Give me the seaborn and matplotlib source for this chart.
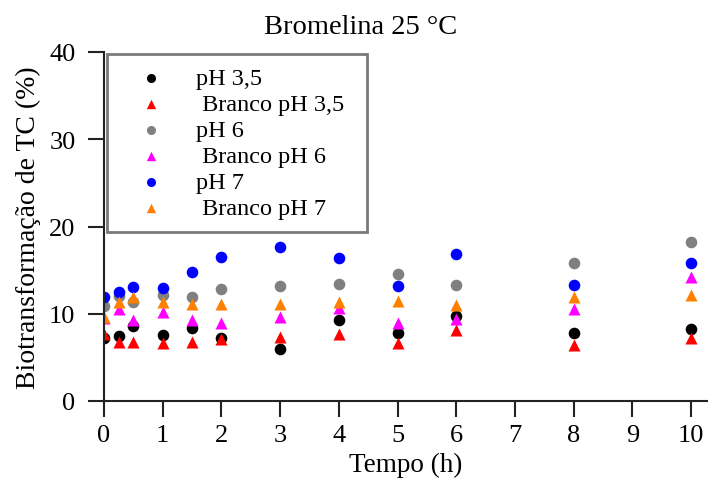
import matplotlib
matplotlib.use("Agg")
import matplotlib.pyplot as plt
import seaborn as sns
import pandas as pd

# ---- data ----
tempo = [0, 0.25, 0.5, 1, 1.5, 2, 3, 4, 5, 6, 8, 10]
ph35 = [7.2, 7.4, 8.65, 7.6, 8.35, 7.2, 5.95, 9.3, 7.85, 9.7, 7.85, 8.2]
branco_ph35 = [7.7, 6.8, 6.8, 6.65, 6.8, 7.1, 7.35, 7.7, 6.7, 8.15, 6.4, 7.2]
ph6 = [10.85, 12.0, 11.4, 12.15, 11.9, 12.8, 13.15, 13.45, 14.6, 13.3, 15.8, 18.2]
branco_ph6 = [9.5, 10.5, 9.3, 10.15, 9.3, 8.9, 9.6, 10.7, 8.9, 9.4, 10.55, 14.2]
ph7 = [11.9, 12.5, 13.1, 12.95, 14.75, 16.5, 17.7, 16.35, 13.2, 16.8, 13.3, 15.8]
branco_ph7 = [9.6, 11.3, 11.95, 11.3, 11.1, 11.1, 11.1, 11.4, 11.5, 11.05, 11.95, 12.15]

labels = ["pH 3,5", " Branco pH 3,5", "pH 6", " Branco pH 6", "pH 7", " Branco pH 7"]
series = [ph35, branco_ph35, ph6, branco_ph6, ph7, branco_ph7]
colors = ["#000000", "#ff0000", "#808080", "#ff00ff", "#0000ff", "#ff8000"]
markers = ["o", "^", "o", "^", "o", "^"]
x_ticks = [0, 1, 2, 3, 4, 5, 6, 7, 8, 9, 10]
y_ticks = [0, 10, 20, 30, 40]

sns.set_theme(style="ticks")
plt.rcParams["font.family"] = ["Liberation Serif", "DejaVu Serif"]
plt.rcParams["text.color"] = "black"
plt.rcParams["axes.labelcolor"] = "black"

fig = plt.figure(figsize=(7.08, 4.81), dpi=100)
ax = fig.add_axes([104 / 708, 1 - 402 / 481, 603 / 708, 349 / 481])

for lab, vals, col, mk in zip(labels, series, colors, markers):
    df = pd.DataFrame({"Tempo": tempo, "Valor": vals})
    sns.scatterplot(data=df, x="Tempo", y="Valor", ax=ax, color=col, marker=mk,
                    s=70 if mk == "o" else 75, linewidth=0, label=lab)

ax.set_xlim(0, 10.27)
ax.set_ylim(0, 40)
ax.set_xticks(x_ticks)
ax.set_yticks(y_ticks)
ax.tick_params(axis="both", direction="out", length=11.5, width=1.5, labelsize=19,
               color="#222222", labelcolor="black")
ax.tick_params(axis="x", pad=5)
ax.tick_params(axis="y", pad=9)
for s in ["top", "right"]:
    ax.spines[s].set_visible(False)
for s in ["left", "bottom"]:
    ax.spines[s].set_linewidth(1.5)
    ax.spines[s].set_color("#222222")

ax.set_xlabel("Tempo (h)", fontsize=19.5, labelpad=4)
ax.set_ylabel("Biotransformação de TC (%)", fontsize=20, labelpad=6)
ax.set_title("Bromelina 25 °C", fontsize=20.5, pad=14, x=(361 - 104) / 603)

leg = ax.legend(loc="upper left", bbox_to_anchor=(0.005, 0.0, 0.431, 0.994),
                mode="expand", fontsize=17.5, frameon=True, fancybox=False,
                markerscale=0.78, handlelength=2.5, handletextpad=0.6,
                labelspacing=0.16, borderpad=0.55, borderaxespad=0)
leg.get_frame().set_edgecolor("#7a7a7a")
leg.get_frame().set_linewidth(2)
leg.get_frame().set_alpha(1)

fig.savefig("out.png", dpi=100)
